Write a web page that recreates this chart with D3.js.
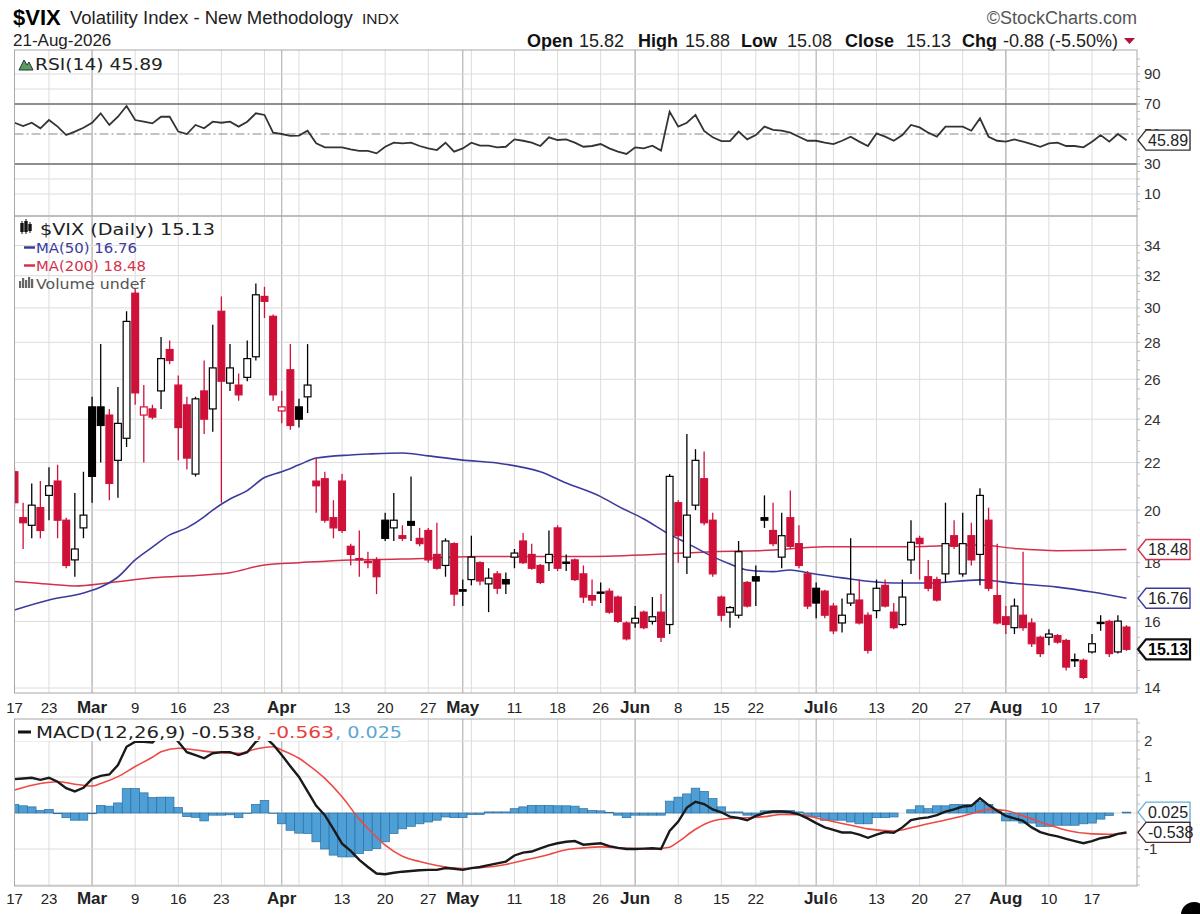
<!DOCTYPE html>
<html>
<head>
<meta charset="utf-8">
<script src="https://d3js.org/d3.v7.min.js"></script>
<style>
  body { margin: 0; background: #fff; }
  svg { display: block; font-family: "Liberation Sans", Arial, sans-serif; }
  .leg { font-family: "DejaVu Sans", Verdana, sans-serif; }
</style>
</head>
<body>
<div id="chart"></div>
<script>
// ---- data ($VIX, 17-Feb-2026 .. 21-Aug-2026) ----
const firstDay = "2026-02-17", lastDay = "2026-08-21";
const holidays = ["2026-04-03", "2026-05-25", "2026-06-19", "2026-07-03"];
const prevClose = 21.0; // close before the first bar

const opens = [21.6,19.7,19.4,20.1,20.6,21.2,19.6,18.1,19.3,24.6, 24.6,24.2,22.1,23.1,30.9,24.2,24.5,25.4,27.6,25.7,
  24.7,21.5,25.4,24.5,29.8,25.8,25.7,26.1,27.2,30.7, 29.5,24.4,26.5,24.6,25.1,21.2,21.3,19.7,21.2,18.6,
  18.15,18.05,18.1,19.6,19.3,19.0,19.55,18.9,19.2,18.3, 17.9,18.7,17.05,17.4,18.0,17.25,17.6,17.4,18.2,18.8,
  18.3,17.9,18.0,19.3,18.02,18.1,17.6,16.85,16.97,17.0, 16.8,15.95,15.95,16.3,16.0,16.3,15.9,20.3,18.2,20.2,
  21.3,19.6,16.8,16.3,16.2,17.3,17.5,19.7,19.2,18.2, 19.7,18.7,17.6,17.1,17.0,16.5,15.95,16.6,16.7,16.2,
  16.35,17.2,16.3,15.9,18.1,18.9,17.5,17.4,17.6,19.0, 17.6,19.0,18.3,19.6,16.85,16.15,15.8,16.2,15.95,15.5,
  15.5,15.55,15.4,14.82,14.8,15.05,15.97,16.0,15.05,15.82];
const highs = [21.8,20.3,21.1,21.2,21.8,21.9,19.7,20.7,21.6,25.1, 27.9,24.5,25.6,29.8,31.2,25.7,24.7,28.3,28.1,26.2,
  25.1,25.1,27.0,29.0,30.7,27.9,26.3,28.1,31.5,31.3, 29.6,25.4,27.9,25.0,27.9,22.2,21.6,20.4,21.5,18.7,
  19.2,18.4,18.2,19.9,20.7,19.4,21.4,19.3,19.3,19.5, 18.9,18.75,17.4,19.0,18.05,17.8,17.7,17.65,18.5,19.1,
  18.7,17.95,19.2,19.4,18.3,18.15,17.9,17.4,17.3,17.1, 16.85,16.0,16.5,16.35,16.8,16.9,21.5,20.4,23.3,22.6,
  22.5,19.9,16.85,16.5,18.8,17.35,17.9,20.6,20.3,19.9, 20.8,19.4,17.7,17.3,17.05,16.6,16.75,18.9,17.4,16.3,
  17.4,17.4,16.6,17.4,19.6,19.0,18.1,17.5,20.3,19.6, 19.9,19.5,20.9,20.1,18.7,16.5,16.75,18.4,16.1,15.55,
  15.75,15.6,15.45,15.0,14.85,15.6,16.2,16.05,16.2,15.88];
const lows = [20.1,18.5,18.9,18.9,19.6,18.9,17.8,17.5,18.9,20.3, 22.0,20.4,20.5,22.7,24.7,22.0,24.0,24.5,26.8,22.1,
  21.7,21.4,23.3,23.4,20.3,25.4,24.9,25.9,27.0,29.4, 24.9,23.8,23.5,23.6,24.3,19.9,19.5,18.9,19.1,17.9,
  17.5,17.8,16.9,18.8,18.8,18.8,18.8,18.6,18.0,17.75, 17.5,16.5,16.5,17.2,17.2,16.3,16.9,16.9,17.8,17.95,
  17.75,17.25,17.7,17.7,17.7,17.35,16.6,16.5,16.6,16.25, 15.95,15.4,15.8,15.75,15.9,15.35,15.6,18.0,17.6,20.0,
  19.4,17.5,16.0,15.8,16.1,16.45,16.5,19.3,18.6,17.8, 18.5,17.8,16.4,16.1,16.1,15.6,15.65,16.5,15.9,15.0,
  16.1,16.45,15.75,15.85,17.6,17.4,17.0,16.65,17.3,18.5, 17.5,17.9,17.2,17.0,15.9,15.6,15.6,15.7,15.2,14.9,
  15.25,15.3,14.5,14.6,14.25,15.0,15.7,14.9,15.0,15.08];
const closes = [20.3,19.5,20.2,19.2,21.0,19.6,17.9,18.5,19.8,21.4, 23.7,21.1,23.8,29.2,25.3,24.6,24.1,27.1,27.0,23.6,
  22.2,25.0,24.0,26.6,25.9,26.6,25.2,27.1,30.8,30.4, 25.2,24.6,23.7,24.0,25.7,21.0,19.6,19.3,19.2,18.3,
  18.1,18.0,17.5,18.9,19.6,18.9,19.4,18.7,18.1,17.8, 18.8,16.9,17.0,18.2,17.35,17.45,17.1,17.25,18.35,18.0,
  17.8,17.3,18.3,17.8,18.0,17.4,16.8,16.7,16.95,16.3, 16.0,15.45,16.1,15.8,16.15,15.5,21.4,19.0,19.8,22.1,
  19.5,17.6,16.2,16.45,18.4,16.5,17.35,19.6,18.7,19.0, 18.6,17.9,16.5,16.6,16.2,15.7,16.2,16.9,15.95,15.1,
  17.1,16.5,15.8,16.8,18.75,18.7,17.1,16.7,18.7,18.6, 18.7,18.1,20.6,17.1,15.95,15.9,16.5,15.8,15.3,15.0,
  15.6,15.35,14.6,14.8,14.3,15.3,15.95,15.0,16.01,15.13];

// moving averages: [trading-day index, value]
const ma50 = [[0,16.37],[4,16.7],[8,16.94],[10,17.14],[12,17.49],[14,18.1],[16,18.57],[18,19.03],[20,19.3],[22,19.73],
  [23,20.0],[25,20.45],[27,20.8],[29,21.35],[31,21.6],[33,21.9],[35,22.2],[39,22.34],[41,22.38],[45,22.43],
  [48,22.3],[52,22.11],[56,21.98],[61,21.6],[64,21.12],[68,20.55],[70,20.16],[73,19.65],[76,19.05],[78,18.72],
  [81,18.22],[83,17.95],[85,17.74],[88,17.68],[90,17.74],[92,17.64],[96,17.46],[102,17.28],[106,17.28],[112,17.39],
  [116,17.27],[121,17.14],[125,16.97],[129,16.76]];
const ma200 = [[0,17.33],[2,17.29],[7,17.18],[11,17.29],[16,17.46],[22,17.56],[25,17.64],[29,17.92],[33,18.0],[39,18.1],
  [45,18.13],[54,18.22],[66,18.22],[73,18.28],[77,18.34],[81,18.4],[88,18.46],[94,18.58],[102,18.58],[112,18.65],
  [116,18.52],[121,18.44],[129,18.48]];

const rsi = [57.5,55.3,57.5,53.8,59.3,54.9,49.3,51.6,54.2,57.5, 63.8,56,61.5,68.7,59.3,58.2,57.1,61.5,61.5,51.6,
  50,56,53.8,58.2,57.5,58.2,54.9,58.2,63.8,62.7, 50.9,50,48.7,48.9,52.2,43.8,41.1,41.1,41.1,39.8,
  38.7,38.7,37.1,41.5,44.2,43.8,44.2,42,40.4,39.3, 44.2,38.2,40.4,44.2,42.2,42.2,41.1,41.5,46.4,45.5,
  44.2,42,47.8,46,46.4,44.2,41.5,42,43.3,40.4, 38.2,36.7,41.1,40.4,42.2,38.9,64.9,54.9,57.5,62.7,
  52,47.8,45.3,45.3,51.6,46.4,49.3,54.9,52.7,52.2, 50.9,48.2,45.5,45.5,44.2,43.3,45.5,48.2,44.9,42,
  50.4,48.2,45.5,49.3,56,54.4,50.9,48.2,54.9,54.9, 54.9,52.2,60.4,48.2,45.5,44.9,46.4,44.9,43.3,41.5,
  43.8,44.2,42,42,41.1,44.9,49.3,44.9,50,45.89];

const macd = [0.94,0.96,0.98,0.92,0.98,0.87,0.69,0.6,0.7,0.95, 1.03,1.07,1.33,1.84,1.98,1.98,1.96,2.2,2.25,1.98,
  1.69,1.61,1.52,1.66,1.69,1.69,1.61,1.69,1.98,2.12, 1.9,1.61,1.3,1.0,0.6,0.2,-0.06,-0.45,-0.85,-1.05,
  -1.3,-1.5,-1.68,-1.7,-1.66,-1.63,-1.61,-1.59,-1.58,-1.58, -1.53,-1.55,-1.58,-1.53,-1.5,-1.45,-1.4,-1.35,-1.18,-1.1,
  -1.07,-0.98,-0.9,-0.84,-0.8,-0.78,-0.88,-0.86,-0.84,-0.92, -0.97,-1.0,-1.0,-0.99,-0.98,-1.0,-0.5,-0.24,0.15,0.31,
  0.25,0.1,0.02,-0.1,-0.14,-0.2,-0.08,0.0,0.04,0.04, 0.02,-0.04,-0.15,-0.28,-0.4,-0.47,-0.54,-0.54,-0.6,-0.69,
  -0.6,-0.53,-0.55,-0.4,-0.2,-0.15,-0.12,-0.06,0.04,0.1, 0.18,0.2,0.41,0.22,0.06,-0.08,-0.15,-0.22,-0.4,-0.53,
  -0.6,-0.65,-0.72,-0.78,-0.84,-0.78,-0.7,-0.66,-0.58,-0.538];
const macdSignal = [[0,0.64],[3,0.82],[5,0.87],[7,0.8],[9,0.75],[10,0.82],[12,1.01],[14,1.29],[16,1.55],[17,1.7],
  [19,1.8],[21,1.75],[23,1.69],[26,1.66],[28,1.78],[30,1.84],[31,1.75],[33,1.52],[34,1.35],[36,0.96],
  [38,0.45],[40,-0.17],[41,-0.43],[43,-0.89],[45,-1.2],[47,-1.35],[49,-1.46],[52,-1.54],[54,-1.52],[57,-1.43],
  [59,-1.32],[62,-1.15],[64,-1.02],[66,-0.97],[68,-0.94],[71,-0.98],[74,-1.0],[76,-0.95],[77,-0.8],[79,-0.45],
  [81,-0.22],[83,-0.15],[85,-0.13],[87,-0.1],[89,-0.04],[91,-0.05],[94,-0.19],[97,-0.34],[99,-0.44],[102,-0.5],
  [104,-0.41],[106,-0.3],[109,-0.14],[111,-0.02],[113,0.1],[115,0.07],[117,-0.08],[120,-0.33],[122,-0.48],[125,-0.58],
  [127,-0.59],[129,-0.563]];
const macdHist = [0.24,0.2,0.17,0.07,0.1,-0.02,-0.13,-0.2,-0.2,-0.02, 0.21,0.19,0.28,0.68,0.68,0.56,0.43,0.44,0.44,0.15,
  -0.1,-0.12,-0.22,-0.06,-0.06,-0.05,-0.13,-0.01,0.24,0.35, -0.01,-0.3,-0.48,-0.56,-0.57,-0.8,-1.0,-1.17,-1.22,-1.22,
  -1.13,-1.04,-0.99,-0.8,-0.57,-0.44,-0.37,-0.3,-0.25,-0.2, -0.11,-0.13,-0.13,-0.04,-0.04,0.03,0.03,0.03,0.12,0.17,
  0.21,0.21,0.21,0.2,0.2,0.19,0.12,0.07,0.06,0.02, -0.06,-0.13,-0.06,-0.06,-0.06,-0.06,0.33,0.44,0.53,0.69,
  0.6,0.4,0.17,0.03,0.03,-0.06,-0.06,0.06,0.06,0.07, 0.07,0.03,-0.11,-0.11,-0.2,-0.2,-0.2,-0.25,-0.3,-0.3,
  -0.13,-0.13,-0.11,0.0,0.09,0.2,0.12,0.2,0.2,0.24, 0.24,0.24,0.33,0.24,0.07,-0.22,-0.22,-0.28,-0.28,-0.37,
  -0.37,-0.34,-0.34,-0.34,-0.3,-0.28,-0.17,-0.07,0.0,0.025];

const priceTicks = [14,16,18,20,22,24,26,28,30,32,34];
const rsiTicks = [10,30,50,70,90];
const macdTicks = [-1,1,2];
const xLabels = [["2026-02-17","17"],["2026-02-23","23"],["2026-03-02","Mar"],["2026-03-09","9"],["2026-03-16","16"],
  ["2026-03-23","23"],["2026-04-01","Apr"],["2026-04-13","13"],["2026-04-20","20"],["2026-04-27","27"],
  ["2026-05-01","May"],["2026-05-11","11"],["2026-05-18","18"],["2026-05-26","26"],["2026-06-01","Jun"],
  ["2026-06-08","8"],["2026-06-15","15"],["2026-06-22","22"],["2026-07-01","Jul"],["2026-07-06","6"],
  ["2026-07-13","13"],["2026-07-20","20"],["2026-07-27","27"],["2026-08-03","Aug"],["2026-08-10","10"],["2026-08-17","17"]];

// ---- layout ----
const W = 1200, H = 914;
const L = 14.5, R = 1137;
const rsiP = {top: 50, bottom: 216};
const priceP = {top: 216, bottom: 693};
const macdP = {top: 719, bottom: 886};
const RED = "#cf1139", BLUE = "#3b3b9e", MA200C = "#d4304c";

const fmt = d3.utcFormat("%Y-%m-%d");
const days = d3.utcDay.range(new Date(firstDay), d3.utcDay.offset(new Date(lastDay), 1))
  .filter(d => d.getUTCDay() !== 0 && d.getUTCDay() !== 6 && !holidays.includes(fmt(d)));
const keys = days.map(fmt);

const x = d3.scalePoint().domain(keys).range([14.5, 1126.5]);
const xi = i => x(keys[i]);
const step = x.step();

const yRsi = d3.scaleLinear().domain([30, 70]).range([164, 104]);
const yPrice = d3.scaleLog().domain([14, 34]).range([688, 245.5]);
const yMacd = d3.scaleLinear().domain([0, 2]).range([813, 741]);

const svg = d3.select("#chart").append("svg").attr("width", W).attr("height", H);

const defs = svg.append("defs");
[["cRsi", rsiP], ["cPrice", priceP], ["cMacd", macdP]].forEach(([id, p]) => {
  defs.append("clipPath").attr("id", id).append("rect")
    .attr("x", L).attr("y", p.top).attr("width", R - L).attr("height", p.bottom - p.top);
});

// ---- header ----
svg.append("text").attr("x", 13).attr("y", 25).attr("font-size", 22).attr("font-weight", "bold").text("$VIX");
svg.append("text").attr("x", 70).attr("y", 24).attr("font-size", 18.5).attr("fill", "#222").text("Volatility Index - New Methodology");
svg.append("text").attr("x", 362).attr("y", 24).attr("font-size", 15.5).attr("fill", "#222").text("INDX");
svg.append("text").attr("x", 13).attr("y", 46).attr("font-size", 17).attr("fill", "#222").text("21-Aug-2026");
svg.append("text").attr("x", R).attr("y", 24).attr("font-size", 18).attr("fill", "#555")
  .attr("text-anchor", "end").text("\u00A9StockCharts.com");

const info = svg.append("text").attr("y", 47).attr("font-size", 18).attr("fill", "#222");
[["Open", 527, "15.82", 579], ["High", 638, "15.88", 685], ["Low", 741, "15.08", 787],
 ["Close", 845, "15.13", 906], ["Chg", 962, "-0.88 (-5.50%)", 1003]].forEach(([k, kx, v, vx]) => {
  info.append("tspan").attr("x", kx).attr("font-weight", "bold").attr("fill", "#111").text(k);
  info.append("tspan").attr("x", vx).text(v);
});
svg.append("path").attr("d", "M1124,38 L1135,38 L1129.5,44 Z").attr("fill", "#b0103a");

// ---- grids ----
const weekIdx = keys.map((k, i) => i).filter(i => i === 0 ||
  +d3.utcMonday.floor(days[i]) !== +d3.utcMonday.floor(days[i - 1]));
const monthIdx = keys.map((k, i) => i).filter(i => i > 0 && days[i].getUTCMonth() !== days[i - 1].getUTCMonth());

function vGrid(p) {
  const g = svg.append("g");
  g.selectAll("line.w").data(weekIdx).join("line").attr("class", "w")
    .attr("x1", xi).attr("x2", xi).attr("y1", p.top).attr("y2", p.bottom)
    .attr("stroke", "#dcdcdc").attr("stroke-width", 1);
  g.selectAll("line.m").data(monthIdx).join("line").attr("class", "m")
    .attr("x1", xi).attr("x2", xi).attr("y1", p.top).attr("y2", p.bottom)
    .attr("stroke", "#b4b4b4").attr("stroke-width", 1.2);
}
function hGrid(p, scale, ticks) {
  svg.append("g").selectAll("line").data(ticks).join("line")
    .attr("x1", L).attr("x2", R).attr("y1", d => scale(d)).attr("y2", d => scale(d))
    .attr("stroke", "#dcdcdc").attr("stroke-width", 1);
}
function rightTicks(scale, ticks) {
  svg.append("g").selectAll("text").data(ticks).join("text")
    .attr("x", 1144).attr("y", d => scale(d)).attr("dy", "0.36em")
    .attr("font-size", 15).attr("fill", "#333").text(d => d);
}
function frame(p) {
  svg.append("rect").attr("x", L).attr("y", p.top).attr("width", R - L).attr("height", p.bottom - p.top)
    .attr("fill", "none").attr("stroke", "#a8a8a8").attr("stroke-width", 1);
}
function minorTicks(vals, scale) {
  svg.append("g").selectAll("line").data(vals).join("line")
    .attr("x1", R).attr("x2", R + 3).attr("y1", d => scale(d)).attr("y2", d => scale(d))
    .attr("stroke", "#bbb").attr("stroke-width", 1);
}
function legendText(g, x0, y0, size, color, width, str) {
  return g.append("text").attr("x", x0).attr("y", y0).attr("font-size", size).attr("fill", color)
    .attr("textLength", width).attr("lengthAdjust", "spacingAndGlyphs").text(str);
}

// ---- RSI panel ----
vGrid(rsiP);
hGrid(rsiP, yRsi, [10, 20, 80, 90]);
const gR = svg.append("g").attr("clip-path", "url(#cRsi)");
gR.selectAll("line.lvl").data([30, 70]).join("line").attr("class", "lvl")
  .attr("x1", L).attr("x2", R).attr("y1", yRsi).attr("y2", yRsi).attr("stroke", "#6a6a6a").attr("stroke-width", 1.6);
gR.append("line").attr("x1", L).attr("x2", R).attr("y1", yRsi(50)).attr("y2", yRsi(50))
  .attr("stroke", "#888").attr("stroke-width", 1.2).attr("stroke-dasharray", "9,3,2,3");
gR.append("path").datum(rsi)
  .attr("d", d3.line().x((v, i) => xi(i)).y(v => yRsi(v)))
  .attr("fill", "none").attr("stroke", "#333").attr("stroke-width", 1.8);
frame(rsiP);
minorTicks(d3.range(0, 101, 5), yRsi);
rightTicks(yRsi, rsiTicks);
const lr = svg.append("g").attr("class", "leg");
lr.append("path").attr("d", "M19,70 L24,60 L27,65 L29,62 L33,70 Z").attr("fill", "#5a9e5a").attr("stroke", "#234").attr("stroke-width", 1);
legendText(lr, 35, 70, 16, "#222", 128, "RSI(14) 45.89");

// ---- price panel ----
vGrid(priceP);
hGrid(priceP, yPrice, priceTicks);
const gP = svg.append("g").attr("clip-path", "url(#cPrice)");
const maLine = d3.line().x(d => xi(d[0])).y(d => yPrice(d[1])).curve(d3.curveMonotoneX);
gP.append("path").datum(ma200).attr("d", maLine).attr("fill", "none").attr("stroke", MA200C).attr("stroke-width", 1.5);
gP.append("path").datum(ma50).attr("d", maLine).attr("fill", "none").attr("stroke", BLUE).attr("stroke-width", 1.6);

const bars = keys.map((k, i) => ({
  k, o: opens[i], h: highs[i], l: lows[i], c: closes[i], pc: i ? closes[i - 1] : prevClose
}));
const bw = 6.8;
const cg = gP.selectAll("g.c").data(bars).join("g").attr("class", "c");
cg.append("line")
  .attr("x1", d => x(d.k)).attr("x2", d => x(d.k))
  .attr("y1", d => yPrice(d.h)).attr("y2", d => yPrice(d.l))
  .attr("stroke", d => d.c >= d.pc ? "#000" : RED).attr("stroke-width", 1.3);
cg.append("rect")
  .attr("x", d => x(d.k) - bw / 2).attr("width", bw)
  .attr("y", d => yPrice(Math.max(d.o, d.c)))
  .attr("height", d => Math.max(1.2, Math.abs(yPrice(d.o) - yPrice(d.c))))
  .attr("fill", d => d.c > d.o ? "#fff" : (d.c >= d.pc ? "#000" : RED))
  .attr("stroke", d => d.c >= d.pc ? "#000" : RED).attr("stroke-width", 1.2);
frame(priceP);
minorTicks(d3.range(14, 34.01, 0.5), yPrice);
rightTicks(yPrice, priceTicks);

// legend
const lg = svg.append("g").attr("class", "leg");
[[22, 223, 9], [26, 221, 11], [30, 224, 7]].forEach(([cx, y1, h]) => {
  lg.append("line").attr("x1", cx).attr("x2", cx).attr("y1", y1 - 2).attr("y2", y1 + h + 2).attr("stroke", "#111");
  lg.append("rect").attr("x", cx - 1.7).attr("y", y1).attr("width", 3.4).attr("height", h).attr("fill", "#111");
});
legendText(lg, 40, 235, 16, "#222", 175, "$VIX (Daily) 15.13");
lg.append("line").attr("x1", 24).attr("x2", 35).attr("y1", 247.5).attr("y2", 247.5).attr("stroke", BLUE).attr("stroke-width", 2.5);
legendText(lg, 36, 253, 14, BLUE, 101, "MA(50) 16.76");
lg.append("line").attr("x1", 24).attr("x2", 35).attr("y1", 265.5).attr("y2", 265.5).attr("stroke", MA200C).attr("stroke-width", 2.5);
legendText(lg, 36, 271, 14, MA200C, 110, "MA(200) 18.48");
[[19, 7], [22, 10], [25, 8], [28, 11], [31, 9]].forEach(([bx, h]) => {
  lg.append("rect").attr("x", bx).attr("y", 288 - h).attr("width", 2.2).attr("height", h).attr("fill", "#666");
});
legendText(lg, 36, 289, 14, "#555", 109, "Volume undef");

// ---- x labels ----
function xAxisLabels(yb) {
  svg.append("g").selectAll("text").data(xLabels).join("text")
    .attr("x", d => x(d[0])).attr("y", yb).attr("text-anchor", "middle")
    .attr("font-size", d => /[A-Za-z]/.test(d[1]) ? 17 : 15)
    .attr("font-weight", d => /[A-Za-z]/.test(d[1]) ? "bold" : "normal")
    .attr("fill", "#222").text(d => d[1]);
}
xAxisLabels(713);
xAxisLabels(904);

// ---- MACD panel ----
vGrid(macdP);
hGrid(macdP, yMacd, [-2, -1, 0, 1, 2]);
const gM = svg.append("g").attr("clip-path", "url(#cMacd)");
gM.selectAll("rect").data(macdHist).join("rect")
  .attr("x", (v, i) => xi(i) - step / 2).attr("width", step)
  .attr("y", v => yMacd(Math.max(0, v))).attr("height", v => Math.abs(yMacd(v) - yMacd(0)))
  .attr("fill", "#4d9fd6").attr("stroke", "#2d6f9f").attr("stroke-width", 0.7);
gM.append("path").datum(macdSignal)
  .attr("d", d3.line().x(d => xi(d[0])).y(d => yMacd(d[1])).curve(d3.curveMonotoneX))
  .attr("fill", "none").attr("stroke", "#ee4a44").attr("stroke-width", 1.6);
gM.append("path").datum(macd)
  .attr("d", d3.line().x((v, i) => xi(i)).y(v => yMacd(v)))
  .attr("fill", "none").attr("stroke", "#1a1a1a").attr("stroke-width", 2.4);
// the legend box hides the lines behind it
svg.append("rect").attr("x", L + 1).attr("y", macdP.top + 1).attr("width", 392).attr("height", 21).attr("fill", "#fff");
const ml = svg.append("g").attr("class", "leg");
ml.append("line").attr("x1", 18).attr("x2", 31).attr("y1", 732).attr("y2", 732).attr("stroke", "#111").attr("stroke-width", 3);
legendText(ml, 36, 738, 16, "#222", 219, "MACD(12,26,9) -0.538");
legendText(ml, 256, 738, 16, "#e8403c", 78, ", -0.563");
legendText(ml, 335, 738, 16, "#5aa7d6", 67, ", 0.025");
frame(macdP);
minorTicks(d3.range(-2, 2.6, 0.25), yMacd);
rightTicks(yMacd, macdTicks);

// ---- value tags on the right edge ----
function tag(y, text, stroke, opts = {}) {
  const g = svg.append("g");
  g.append("path")
    .attr("d", `M${R + 1},${y} L${R + 9},${y - 10} L1190,${y - 10} L1190,${y + 10} L${R + 9},${y + 10} Z`)
    .attr("fill", "#fff").attr("stroke", stroke).attr("stroke-width", opts.sw || 1.4);
  g.append("text").attr("x", R + 11).attr("y", y).attr("dy", "0.36em")
    .attr("font-size", 16).attr("font-weight", opts.bold ? "bold" : "normal")
    .attr("fill", opts.color || "#222").text(text);
}
tag(yRsi(rsi[rsi.length - 1]), "45.89", "#333");
tag(yPrice(ma200[ma200.length - 1][1]), "18.48", MA200C);
tag(yPrice(ma50[ma50.length - 1][1]), "16.76", BLUE);
tag(yPrice(closes[closes.length - 1]), "15.13", "#111", {bold: true, sw: 2.2, color: "#000"});
tag(yMacd(macdHist[macdHist.length - 1]), "0.025", "#6aaed8");
tag(yMacd(macd[macd.length - 1]), "-0.538", "#4a2a2a");

// dark dot in the bottom-right corner of the picture
svg.append("circle").attr("cx", 1194).attr("cy", 915).attr("r", 13).attr("fill", "#000");
</script>
</body>
</html>
